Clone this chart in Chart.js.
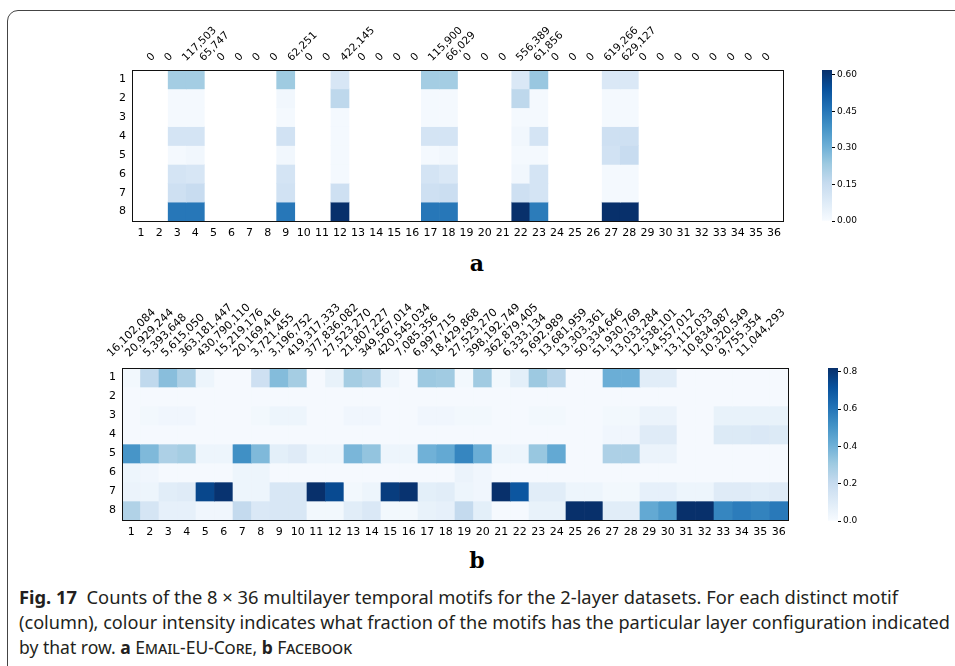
<!DOCTYPE html>
<html>
<head>
<meta charset="utf-8">
<script src="https://cdn.jsdelivr.net/npm/chart.js@4.4.1/dist/chart.umd.min.js"></script>
<style>
  html, body { margin: 0; padding: 0; background: #fff; }
  body { width: 955px; height: 666px; position: relative; overflow: hidden; }
  canvas { position: absolute; }
  .frame { position: absolute; left: 7px; top: 10px; width: 1000px; height: 700px;
           border: 1px solid #444; border-radius: 11px; box-sizing: border-box; }
  .panel { position: absolute; font: bold 22px "DejaVu Serif", serif; color: #000;
           transform: translate(-50%, -50%); }
  .cap { position: absolute; left: 19px; white-space: nowrap; transform-origin: 0 50%;
         font: 18px "Liberation Sans Narrow", "Noto Sans", sans-serif; color: #231f20; }
  .cap b { font-weight: bold; }
  .sc { font-variant: small-caps; }
</style>
</head>
<body>
<div class="frame"></div>
<canvas id="heat-a" width="955" height="245" style="left:0;top:0"></canvas>
<canvas id="bar-a" width="175" height="245" style="left:780px;top:0"></canvas>
<canvas id="heat-b" width="955" height="255" style="left:0;top:290px"></canvas>
<canvas id="bar-b" width="175" height="255" style="left:780px;top:290px"></canvas>
<div class="panel" style="left:477px;top:263px">a</div>
<div class="panel" style="left:477px;top:560px">b</div>
<div class="cap" data-w="879" style="top:585px"><b>Fig. 17</b>&nbsp; Counts of the 8 × 36 multilayer temporal motifs for the 2-layer datasets. For each distinct motif</div>
<div class="cap" data-w="931" style="top:610px">(column), colour intensity indicates what fraction of the motifs has the particular layer configuration indicated</div>
<div class="cap" data-w="333" style="top:635px">by that row. <b>a</b> <span class="sc">Email-EU-Core</span>, <b>b</b> <span class="sc">Facebook</span></div>
<script>
/* Fig. 17 — multilayer temporal motif heatmaps (a: Email-EU-Core, b: Facebook) */

const columns = Array.from({length: 36}, (_, i) => String(i + 1));
const rows = [1, 2, 3, 4, 5, 6, 7, 8];

// motif totals shown above each column
const countsA = ['0','0','117,503','65,747','0','0','0','0','62,251','0','0','422,145','0','0','0','0',
  '115,900','66,029','0','0','0','556,389','61,856','0','0','0','619,266','629,127','0','0','0','0','0','0','0','0'];
const countsB = ['16,102,084','20,929,244','5,393,648','5,615,050','363,181,447','430,790,110','15,219,176',
  '20,169,416','3,721,455','3,196,752','419,317,333','377,836,082','27,523,270','21,807,227','349,567,014',
  '420,545,034','7,085,356','6,997,715','18,429,868','27,523,270','398,192,749','362,879,405','6,333,134',
  '5,692,989','13,681,959','13,303,361','50,334,646','51,930,769','13,033,284','12,538,101','14,557,012',
  '13,112,033','10,834,987','10,320,549','9,755,354','11,044,293'];

// fraction per layer configuration (row) for each motif (column); null = no motifs
const _ = null;
const a1 = [_,_,.22,.22,_,_,_,_,.23,_,_,.10,_,_,_,_,.22,.22,_,_,_,.09,.24,_,_,_,.09,.09,_,_,_,_,_,_,_,_];
const a2 = [_,_,.01,.01,_,_,_,_,.02,_,_,.17,_,_,_,_,.01,.01,_,_,_,.17,.01,_,_,_,.01,.01,_,_,_,_,_,_,_,_];
const a3 = [_,_,.01,.01,_,_,_,_,.01,_,_,.01,_,_,_,_,.01,.01,_,_,_,.01,.01,_,_,_,.01,.01,_,_,_,_,_,_,_,_];
const a4 = [_,_,.11,.11,_,_,_,_,.12,_,_,.01,_,_,_,_,.11,.11,_,_,_,.02,.11,_,_,_,.13,.13,_,_,_,_,_,_,_,_];
const a5 = [_,_,.01,.02,_,_,_,_,.02,_,_,.01,_,_,_,_,.01,.02,_,_,_,.01,.01,_,_,_,.12,.15,_,_,_,_,_,_,_,_];
const a6 = [_,_,.11,.10,_,_,_,_,.11,_,_,.01,_,_,_,_,.11,.09,_,_,_,.02,.11,_,_,_,.01,.01,_,_,_,_,_,_,_,_];
const a7 = [_,_,.13,.15,_,_,_,_,.12,_,_,.13,_,_,_,_,.13,.14,_,_,_,.13,.11,_,_,_,.01,.01,_,_,_,_,_,_,_,_];
const a8 = [_,_,.45,.45,_,_,_,_,.45,_,_,.62,_,_,_,_,.45,.45,_,_,_,.62,.44,_,_,_,.62,.62,_,_,_,_,_,_,_,_];
const valuesA = [a1, a2, a3, a4, a5, a6, a7, a8];

const b1 = [.02,.22,.35,.27,.04,.01,.01,.17,.36,.29,.01,.06,.29,.26,.04,.01,.31,.30,.02,.30,.02,.08,.31,.24,.01,.01,.41,.41,.09,.09,.01,.01,.01,.01,.01,.01];
const b2 = [.01,.01,.01,.01,.01,.01,.01,.01,.01,.01,.01,.01,.01,.01,.01,.01,.01,.01,.01,.01,.01,.01,.01,.01,.01,.01,.01,.01,.01,.01,.01,.01,.01,.01,.01,.01];
const b3 = [.01,.02,.03,.03,.01,.01,.01,.02,.04,.04,.01,.01,.03,.03,.01,.01,.03,.03,.02,.02,.01,.01,.02,.02,.01,.01,.02,.02,.05,.05,.01,.01,.06,.06,.06,.06];
const b4 = [.01,.01,.01,.01,.01,.01,.01,.01,.01,.01,.01,.01,.01,.01,.01,.01,.01,.01,.01,.01,.01,.01,.01,.01,.01,.01,.03,.03,.10,.10,.01,.01,.11,.11,.12,.11];
const b5 = [.50,.37,.27,.29,.04,.04,.52,.37,.08,.10,.04,.04,.38,.33,.04,.04,.40,.43,.55,.41,.04,.04,.32,.43,.01,.01,.27,.27,.05,.05,.01,.01,.01,.01,.01,.01];
const b6 = [.04,.03,.01,.01,.01,.01,.04,.04,.01,.01,.01,.01,.01,.01,.01,.01,.01,.01,.05,.03,.01,.01,.01,.01,.01,.01,.01,.01,.01,.01,.01,.01,.01,.01,.01,.01];
const b7 = [.05,.04,.09,.10,.75,.81,.04,.04,.13,.13,.82,.74,.02,.04,.78,.81,.08,.09,.04,.03,.82,.70,.09,.09,.04,.04,.02,.02,.07,.07,.04,.04,.10,.10,.09,.10];
const b8 = [.26,.14,.07,.07,.03,.03,.21,.12,.13,.13,.02,.02,.09,.12,.02,.02,.06,.07,.21,.08,.01,.01,.06,.06,.82,.82,.09,.09,.43,.48,.82,.82,.55,.58,.56,.59];
const valuesB = [b1, b2, b3, b4, b5, b6, b7, b8];

const vmaxA = 0.62, vmaxB = 0.82;
const cbTicksA = [0, 0.15, 0.30, 0.45, 0.60];
const cbTicksB = [0, 0.2, 0.4, 0.6, 0.8];

// matplotlib "Blues"
const BLUES = [[247,251,255],[222,235,247],[198,219,239],[158,202,225],[107,174,214],
               [66,146,198],[33,113,181],[8,81,156],[8,48,107]];
function blues(t) {
  t = Math.max(0, Math.min(1, t)) * (BLUES.length - 1);
  const i = Math.min(Math.floor(t), BLUES.length - 2), f = t - i;
  const c = BLUES[i].map((v, k) => Math.round(v + (BLUES[i + 1][k] - v) * f));
  return `rgb(${c[0]},${c[1]},${c[2]})`;
}

Chart.defaults.font.family = '"DejaVu Sans", sans-serif';
Chart.defaults.font.size = 11;
Chart.defaults.color = '#000';

const frameBox = {
  id: 'frameBox',
  afterDraw(chart) {
    const {ctx, chartArea: a} = chart;
    ctx.save();
    ctx.strokeStyle = '#111';
    ctx.lineWidth = 1;
    ctx.strokeRect(Math.round(a.left) + 0.5, Math.round(a.top) + 0.5,
                   Math.round(a.right - a.left), Math.round(a.bottom - a.top));
    ctx.restore();
  }
};

function heatmap(id, values, vmax, counts, box) {
  new Chart(document.getElementById(id), {
    type: 'bar',
    data: {
      labels: columns,
      datasets: values.map((row, r) => ({
        data: row.map(v => v == null ? null : [rows[r] - 0.5, rows[r] + 0.5]),
        backgroundColor: row.map(v => v == null ? 'rgba(0,0,0,0)' : blues(v / vmax)),
        borderWidth: 0,
        grouped: false,
        barPercentage: 1,
        categoryPercentage: 1,
      }))
    },
    options: {
      responsive: false, maintainAspectRatio: false, animation: false,
      devicePixelRatio: 1,
      layout: { padding: { left: 0, top: 0, bottom: 0, right: box.padRight } },
      plugins: { legend: { display: false }, tooltip: { enabled: false } },
      scales: {
        x: {
          grid: { display: false, drawTicks: false }, border: { display: false },
          ticks: { padding: 6, maxRotation: 0, minRotation: 0, autoSkip: false },
          afterFit: s => { s.height = box.bottomH; s.paddingLeft = 0; s.paddingRight = 0; }
        },
        xTop: {
          type: 'linear', position: 'top', min: 0.5, max: 36.5,
          grid: { display: false, drawTicks: false }, border: { display: false },
          afterBuildTicks: s => { s.ticks = counts.map((_, i) => ({ value: i + 1 + box.shift })); },
          ticks: { padding: box.topPad, minRotation: 45, maxRotation: 45, autoSkip: false,
                   font: { size: box.topFont }, callback: (v, i) => counts[i] },
          afterFit: s => { s.height = box.topH; s.paddingLeft = 0; s.paddingRight = 0; }
        },
        y: {
          type: 'linear', reverse: true, min: 0.5, max: 8.5,
          grid: { display: false, drawTicks: false }, border: { display: false },
          afterBuildTicks: s => { s.ticks = rows.map(v => ({ value: v })); },
          ticks: { padding: 6 },
          afterFit: s => { s.width = box.leftW; }
        }
      }
    },
    plugins: [frameBox]
  });
}

function colorbar(id, vmax, ticks, digits, box) {
  new Chart(document.getElementById(id), {
    type: 'bar',
    data: {
      labels: [''],
      datasets: [{
        data: [[0, vmax]],
        backgroundColor: c => {
          const a = c.chart.chartArea;
          if (!a) return blues(0.5);
          const g = c.chart.ctx.createLinearGradient(0, a.bottom, 0, a.top);
          BLUES.forEach((_, i) => g.addColorStop(i / (BLUES.length - 1), blues(i / (BLUES.length - 1))));
          return g;
        },
        borderWidth: 0, barPercentage: 1, categoryPercentage: 1,
      }]
    },
    options: {
      responsive: false, maintainAspectRatio: false, animation: false,
      devicePixelRatio: 1,
      layout: { padding: { left: box.padLeft, top: box.padTop, bottom: box.padBottom, right: 0 } },
      plugins: { legend: { display: false }, tooltip: { enabled: false } },
      scales: {
        x: { display: false },
        y: {
          position: 'right', min: 0, max: vmax,
          grid: { display: true, drawOnChartArea: false, drawTicks: true, tickLength: 3, color: '#000' },
          border: { display: false },
          afterBuildTicks: s => { s.ticks = ticks.map(v => ({ value: v })); },
          ticks: { padding: 2, font: { size: 9 }, callback: v => v.toFixed(digits) },
          afterFit: s => { s.width = box.axisW; }
        }
      }
    }
  });
}

heatmap('heat-a', valuesA, vmaxA, countsA, { padRight: 172, bottomH: 24, topH: 70, leftW: 132, shift: 0.45, topPad: 6, topFont: 10.5 });
heatmap('heat-b', valuesB, vmaxB, countsB, { padRight: 167, bottomH: 25, topH: 78, leftW: 122, shift: -1.2, topPad: 8, topFont: 11 });
colorbar('bar-a', vmaxA, cbTicksA, 2, { padLeft: 42, padTop: 70, padBottom: 24, axisW: 123 });
colorbar('bar-b', vmaxB, cbTicksB, 1, { padLeft: 48, padTop: 78, padBottom: 24, axisW: 117 });

// squeeze caption lines to the measured widths
document.querySelectorAll('.cap').forEach(el => {
  const w = el.getBoundingClientRect().width;
  el.style.transform = `scaleX(${(+el.dataset.w / w).toFixed(4)})`;
});
</script>
</body>
</html>
